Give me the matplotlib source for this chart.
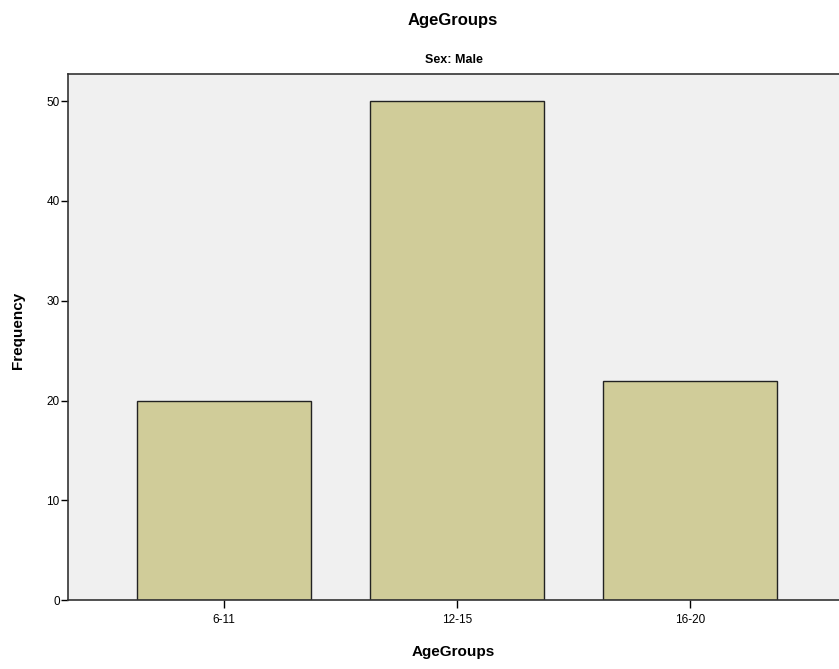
import matplotlib
matplotlib.use("Agg")
import matplotlib.pyplot as plt

plt.rcParams["font.family"] = ["Liberation Sans", "DejaVu Sans"]

categories = ["6-11", "12-15", "16-20"]
frequency = [20, 50, 22]
yticks = [0, 10, 20, 30, 40, 50]

fig = plt.figure(figsize=(8.39, 6.69), dpi=100)
ax = fig.add_axes([0.081, 0.103, 0.919, 0.786])
ax.set_facecolor("#f0f0f0")

x = range(len(categories))
ax.bar(x, frequency, width=0.747, color="#d0cc99", edgecolor="#222222", linewidth=1)

ax.set_xlim(-0.67, 2.64)
ax.set_ylim(0, 52.7)
ax.set_xticks(list(x))
ax.set_xticklabels(categories, fontsize=8.5)
ax.set_yticks(yticks)
ax.set_yticklabels([str(v) for v in yticks], fontsize=8.5)
ax.tick_params(axis="y", length=5, width=1, pad=1)
ax.tick_params(axis="x", length=6, width=1, pad=4)

for side in ["left", "bottom", "top"]:
    ax.spines[side].set_color("#333333")
    ax.spines[side].set_linewidth(1.2)
ax.spines["right"].set_visible(False)

ax.set_xlabel("AgeGroups", fontsize=11, fontweight="bold", labelpad=14)
ax.set_ylabel("Frequency", fontsize=11, fontweight="bold")
ax.yaxis.set_label_coords(-0.056, 0.513)
ax.set_title("Sex: Male", fontsize=9, fontweight="bold", pad=8)
fig.text(0.5 + 0.04, 0.97, "AgeGroups", ha="center", va="center", fontsize=12, fontweight="bold")

fig.savefig("out.png", dpi=100)
